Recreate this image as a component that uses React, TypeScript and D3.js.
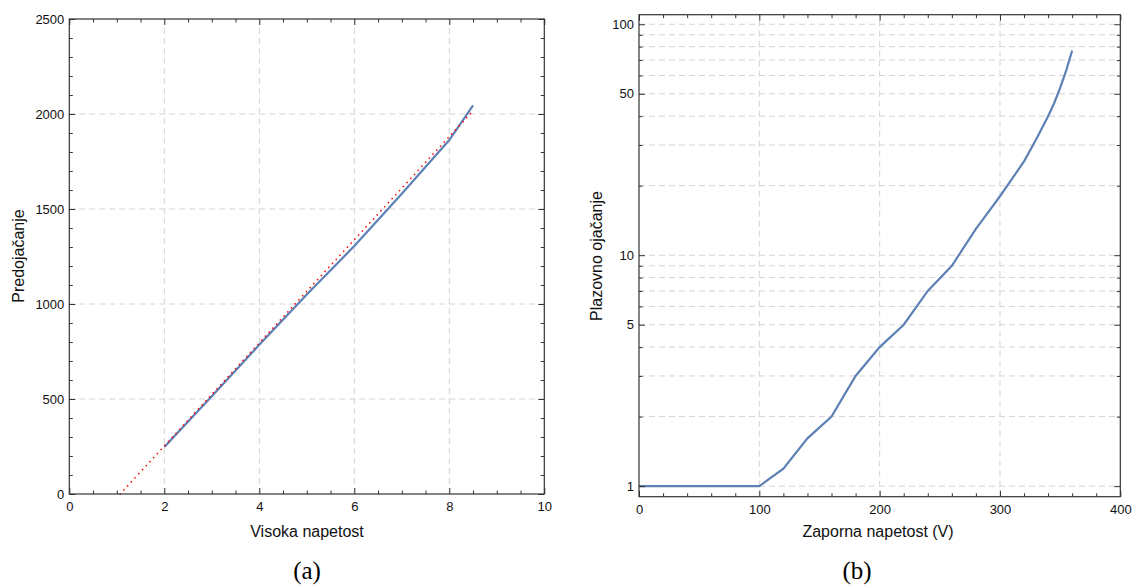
import React, { useEffect, useRef } from "react";
import * as d3 from "d3";

// (a) predojačanje v odvisnosti od visoke napetosti
const hvVolts = [2, 3, 4, 5, 6, 7, 8, 8.5];
const preGain = [248, 515, 785, 1050, 1305, 1580, 1863, 2045];
// premica (rdeča pikčasta)
const fitVolts = [1.07, 8.47];
const fitGain = [0, 2009];

// (b) plazovno ojačanje v odvisnosti od zaporne napetosti
const biasVolts = [0, 20, 40, 60, 80, 100, 120, 140, 160, 180, 200, 220, 240, 260, 280, 290, 300, 310, 320, 330, 340, 345, 350, 355, 360];
const avGain = [1, 1, 1, 1, 1, 1, 1.19, 1.61, 2.0, 3.0, 4.0, 5.0, 7.0, 9.0, 13, 15.3, 18, 21.4, 25.5, 31.7, 40, 45.5, 53, 63, 77];

const aXTicks = [0, 2, 4, 6, 8, 10];
const aYTicks = [0, 500, 1000, 1500, 2000, 2500];
const bXTicks = [0, 100, 200, 300, 400];
const bYTicks = [1, 5, 10, 50, 100];

const W = 1132;
const H = 585;
const BLUE = "#5E81B5";
const GRID = "#d4d4d4";
const FONT = "'Liberation Sans', Arial, sans-serif";

type Sc = d3.ScaleLinear<number, number> | d3.ScaleLogarithmic<number, number>;

function frameAxes(svg: any, x: Sc, y: Sc, xMaj: number[], xMin: number[], yMaj: number[], yMin: number[], yFmt: (d: any) => string) {
  const [x0, x1] = x.range();
  const [y0, y1] = y.range();

  const sides = (vals: number[], size: number, labels: boolean) => {
    const b = svg.append("g").attr("transform", `translate(0,${y0})`)
      .call(d3.axisBottom(x as any).tickValues(vals).tickSizeInner(-size).tickSizeOuter(0).tickPadding(8)
        .tickFormat(labels ? (d: any) => String(d) : () => ""));
    const t = svg.append("g").attr("transform", `translate(0,${y1})`)
      .call(d3.axisTop(x as any).tickValues(vals).tickSizeInner(-size).tickSizeOuter(0).tickFormat(() => ""));
    [b, t].forEach((g) => g.select(".domain").remove());
  };
  const vsides = (vals: number[], size: number, labels: boolean) => {
    const l = svg.append("g").attr("transform", `translate(${x0},0)`)
      .call(d3.axisLeft(y as any).tickValues(vals).tickSizeInner(-size).tickSizeOuter(0).tickPadding(5)
        .tickFormat(labels ? yFmt : () => ""));
    const r = svg.append("g").attr("transform", `translate(${x1},0)`)
      .call(d3.axisRight(y as any).tickValues(vals).tickSizeInner(-size).tickSizeOuter(0).tickFormat(() => ""));
    [l, r].forEach((g) => g.select(".domain").remove());
  };
  sides(xMin, 3.5, false);
  sides(xMaj, 6, true);
  vsides(yMin, 3.5, false);
  vsides(yMaj, 6, true);

  svg.selectAll(".tick line").attr("stroke", "#333");
  svg.selectAll(".tick text").attr("font-family", FONT).attr("font-size", 13).attr("fill", "#111");

  svg.append("rect")
    .attr("x", x0).attr("y", y1)
    .attr("width", x1 - x0).attr("height", y0 - y1)
    .attr("fill", "none").attr("stroke", "#333").attr("stroke-width", 1.2);
}

function grid(svg: any, x: Sc, y: Sc, xs: number[], ys: number[]) {
  const [x0, x1] = x.range();
  const [y0, y1] = y.range();
  const g = svg.append("g").attr("stroke", GRID).attr("stroke-width", 1).attr("stroke-dasharray", "6,4");
  g.selectAll("line.gx").data(xs).join("line")
    .attr("x1", (d: number) => x(d)).attr("x2", (d: number) => x(d))
    .attr("y1", y0).attr("y2", y1);
  g.selectAll("line.gy").data(ys).join("line").attr("class", "gy")
    .attr("y1", (d: number) => y(d)).attr("y2", (d: number) => y(d))
    .attr("x1", x0).attr("x2", x1);
}

const App = () => {
  const ref = useRef<SVGSVGElement>(null);

  useEffect(() => {
    const svg = d3.select(ref.current);
    svg.selectAll("*").remove();

    // ---- panel (a)
    const xa = d3.scaleLinear().domain([0, 10]).range([69.3, 544.3]);
    const ya = d3.scaleLinear().domain([0, 2500]).range([494, 19]);
    grid(svg, xa, ya, [2, 4, 6, 8], [500, 1000, 1500, 2000]);

    const lineA = d3.line<number>().x((d, i) => xa(hvVolts[i])).y((d) => ya(d));
    const fitLine = d3.line<number>().x((d, i) => xa(fitVolts[i])).y((d) => ya(d));
    svg.append("path").datum(preGain).attr("d", lineA)
      .attr("fill", "none").attr("stroke", BLUE).attr("stroke-width", 2.2);
    svg.append("path").datum(fitGain).attr("d", fitLine)
      .attr("fill", "none").attr("stroke", "#ff0000").attr("stroke-width", 1.6)
      .attr("stroke-linecap", "round")
      .attr("stroke-dasharray", "0.1,5.4");

    const aXMin = d3.range(0, 10.01, 0.5).filter((v) => v % 2 !== 0);
    const aYMin = d3.range(0, 2501, 100).filter((v) => v % 500 !== 0);
    frameAxes(svg, xa, ya, aXTicks, aXMin, aYTicks, aYMin, (d) => String(d));

    // ---- panel (b)
    const xb = d3.scaleLinear().domain([0, 400]).range([639, 1120.3]);
    const yb = d3.scaleLog().domain([0.9, 110]).range([496.7, 14.7]);
    const logLevels: number[] = [];
    [1, 10].forEach((dec) => d3.range(1, 10).forEach((m) => logLevels.push(m * dec)));
    logLevels.push(100);
    grid(svg, xb, yb, [100, 200, 300], logLevels);

    const lineB = d3.line<number>().x((d, i) => xb(biasVolts[i])).y((d) => yb(d));
    svg.append("path").datum(avGain).attr("d", lineB)
      .attr("fill", "none").attr("stroke", BLUE).attr("stroke-width", 2.2);

    const bXMin = d3.range(0, 401, 20).filter((v) => v % 100 !== 0);
    const bYMin = logLevels.filter((v) => !bYTicks.includes(v));
    frameAxes(svg, xb, yb, bXTicks, bXMin, bYTicks, bYMin, (d) => String(d));

    // ---- axis titles
    const title = (txt: string, x: number, y: number, rot = false) =>
      svg.append("text").text(txt)
        .attr("transform", rot ? `translate(${x},${y}) rotate(-90)` : `translate(${x},${y})`)
        .attr("text-anchor", "middle").attr("dominant-baseline", "central")
        .attr("font-family", FONT).attr("font-size", 16).attr("fill", "#111");
    title("Visoka napetost", 307, 531);
    title("Predojačanje", 18, 256, true);
    title("Zaporna napetost (V)", 878, 531);
    title("Plazovno ojačanje", 596, 256, true);

    // ---- sub captions
    const cap = (txt: string, x: number) =>
      svg.append("text").text(txt).attr("x", x).attr("y", 570)
        .attr("text-anchor", "middle").attr("dominant-baseline", "central")
        .attr("font-family", "'Liberation Serif', 'DejaVu Serif', serif").attr("font-size", 25).attr("fill", "#000");
    cap("(a)", 307);
    cap("(b)", 857);
  }, []);

  return (
    <div style={{ position: "absolute", left: 0, top: 0, background: "#fff" }}>
      <svg ref={ref} width={W} height={H} style={{ display: "block" }}></svg>
    </div>
  );
};

export default App;
